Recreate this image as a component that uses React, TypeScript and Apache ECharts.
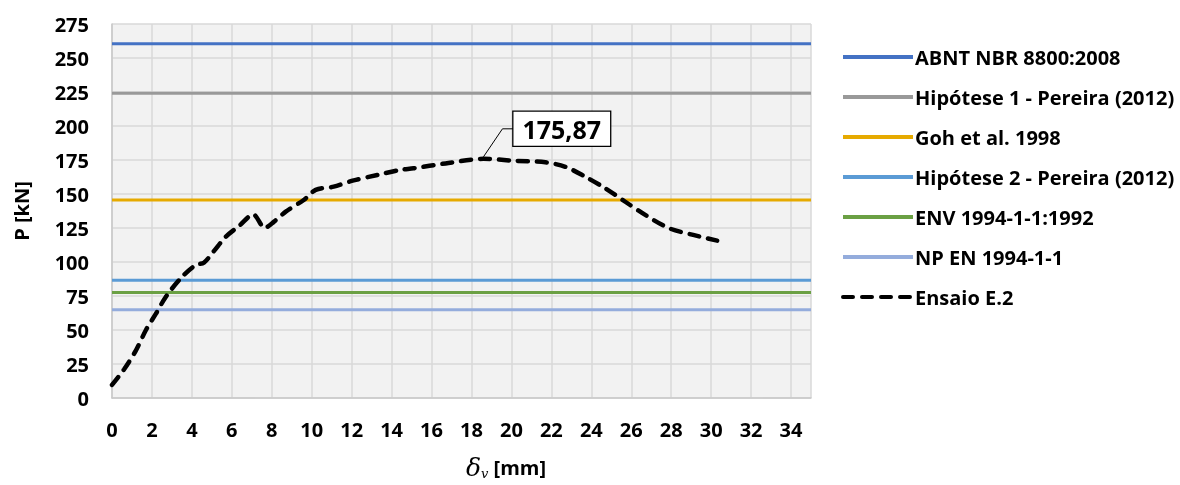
import React, { useEffect, useRef } from "react";
import * as echarts from "echarts";

// Deflection δv [mm] and load P [kN] for test E.2
const testX = [0, 0.6, 1.2, 1.7, 2.2, 2.7, 3.5, 4.2, 4.6, 5.1, 5.7, 6.4, 7.07, 7.65, 8.1, 8.7, 9.6, 10.2, 11.1, 12.1, 13.3, 14.4, 15.1, 16.7, 18.6, 20.1, 21.7, 22.7, 23.7, 24.7, 25.7, 26.7, 27.9, 29.1, 30.3];
const testY = [9.6, 21, 35, 50, 62, 74.5, 89, 97.8, 99.5, 108, 118.6, 127, 135, 125, 129.5, 137, 145.6, 153, 155.4, 160, 164, 167.6, 168.9, 172.5, 175.87, 174.5, 173.3, 170, 162.7, 154.2, 144.3, 134.6, 124.8, 119.9, 115.7];

// Design resistances from codes and hypotheses [kN]
const refNames = [
  "ABNT NBR 8800:2008",
  "Hipótese 1 - Pereira (2012)",
  "Goh et al. 1998",
  "Hipótese 2 - Pereira (2012)",
  "ENV 1994-1-1:1992",
  "NP EN 1994-1-1",
];
const refValues = [260.5, 224, 145.5, 86.5, 77.5, 64.8];
const refColors = ["#4472C4", "#999999", "#E6AA00", "#5B9BD5", "#6BA044", "#94ACDC"];

const testName = "Ensaio E.2";
const xMin = 0;
const xMax = 35;
const xStep = 2;
const yMin = 0;
const yMax = 275;
const yStep = 25;

const FONT = "'Open Sans', Lato, sans-serif";
const FS = 20;
const FW = 700;

export default function App() {
  const ref = useRef<HTMLDivElement>(null);

  useEffect(() => {
    if (!ref.current) return;
    const chart = echarts.init(ref.current, null, { renderer: "svg" });

    const refSeries = refNames.map((name, i) => ({
      name,
      type: "line",
      symbol: "none",
      silent: true,
      data: [
        [xMin, refValues[i]],
        [xMax, refValues[i]],
      ],
      lineStyle: { color: refColors[i], width: 3 },
      itemStyle: { color: refColors[i] },
    }));

    const testData = testX.map((x, i) => [x, testY[i]]);

    chart.setOption({
      animation: false,
      textStyle: { fontFamily: FONT },
      grid: {
        left: 112,
        right: 369,
        top: 24,
        bottom: 87,
        show: true,
        backgroundColor: "#F2F2F2",
        borderWidth: 0,
      },
      legend: {
        orient: "vertical",
        left: 836,
        top: 40,
        itemWidth: 70,
        itemHeight: 14,
        itemGap: 16,
        itemStyle: { opacity: 0 },
        lineStyle: { width: 4 },
        textStyle: {
          fontFamily: FONT,
          fontWeight: FW,
          fontSize: FS,
          color: "#000",
          lineHeight: 24,
          padding: [0, 0, 0, -3],
        },
        data: [...refNames, testName],
      },
      xAxis: {
        type: "value",
        min: xMin,
        max: xMax,
        interval: xStep,
        axisLine: { show: true, lineStyle: { color: "#C8C8C8", width: 1.5 } },
        axisTick: { show: false },
        splitLine: { show: true, lineStyle: { color: "#D9D9D9", width: 1.5 } },
        axisLabel: {
          margin: 21,
          fontFamily: FONT,
          fontWeight: FW,
          fontSize: FS,
          color: "#000",
          formatter: (v: number) => (v % xStep === 0 ? String(v) : ""),
        },
      },
      yAxis: {
        type: "value",
        min: yMin,
        max: yMax,
        interval: yStep,
        name: "P [kN]",
        nameLocation: "middle",
        nameRotate: 90,
        nameGap: 81,
        nameTextStyle: { fontFamily: FONT, fontWeight: FW, fontSize: FS, color: "#000" },
        axisLine: { show: true, lineStyle: { color: "#C8C8C8", width: 1.5 } },
        axisTick: { show: false },
        splitLine: { show: true, lineStyle: { color: "#D9D9D9", width: 1.5 } },
        axisLabel: {
          margin: 23,
          fontFamily: FONT,
          fontWeight: FW,
          fontSize: FS,
          color: "#000",
        },
      },
      series: [
        ...refSeries,
        {
          name: testName,
          type: "line",
          symbol: "none",
          smooth: 0.3,
          data: testData,
          lineStyle: { color: "#000", width: 4.5, type: [10, 9], cap: "round" },
          itemStyle: { color: "#000" },
        },
      ],
    });

    // Peak annotation with leader line, anchored to the maximum of the test curve
    let peakIdx = 0;
    testY.forEach((v, i) => {
      if (v > testY[peakIdx]) peakIdx = i;
    });
    const peak = chart.convertToPixel({ xAxisIndex: 0, yAxisIndex: 0 }, [testX[peakIdx], testY[peakIdx]]) as number[];
    const px = peak[0];
    const py = peak[1] - 2;
    const elbowX = px + 19;
    const elbowY = py - 28;
    const boxX = px + 30;

    chart.setOption({
      graphic: [
        {
          type: "polyline",
          silent: true,
          shape: {
            points: [
              [px, py],
              [elbowX, elbowY],
              [boxX, elbowY],
            ],
          },
          style: { stroke: "#000", lineWidth: 1, fill: null },
        },
        {
          type: "text",
          silent: true,
          x: boxX,
          y: elbowY,
          style: {
            text: testY[peakIdx].toFixed(2).replace(".", ","),
            font: `${FW} 25px ${FONT}`,
            fill: "#000",
            align: "left",
            verticalAlign: "middle",
            backgroundColor: "#fff",
            borderColor: "#000",
            borderWidth: 1.3,
            padding: [5, 9, 4, 9],
          },
        },
        {
          type: "text",
          silent: true,
          x: 466,
          y: 467,
          style: {
            rich: {
              d: { fontFamily: "'DejaVu Serif', serif", fontStyle: "italic", fontSize: 25, fill: "#000" },
              s: { fontFamily: "'DejaVu Serif', serif", fontStyle: "italic", fontSize: 13, fill: "#000", padding: [13, 0, 0, 0] },
              t: { fontFamily: FONT, fontWeight: FW, fontSize: FS, fill: "#000" },
            },
            text: "{d|δ}{s|v}{t| [mm]}",
            verticalAlign: "middle",
          },
        },
      ],
    });

    return () => chart.dispose();
  }, []);

  return <div ref={ref} style={{ position: "fixed", left: 0, top: 0, width: 1180, height: 485 }} />;
}
